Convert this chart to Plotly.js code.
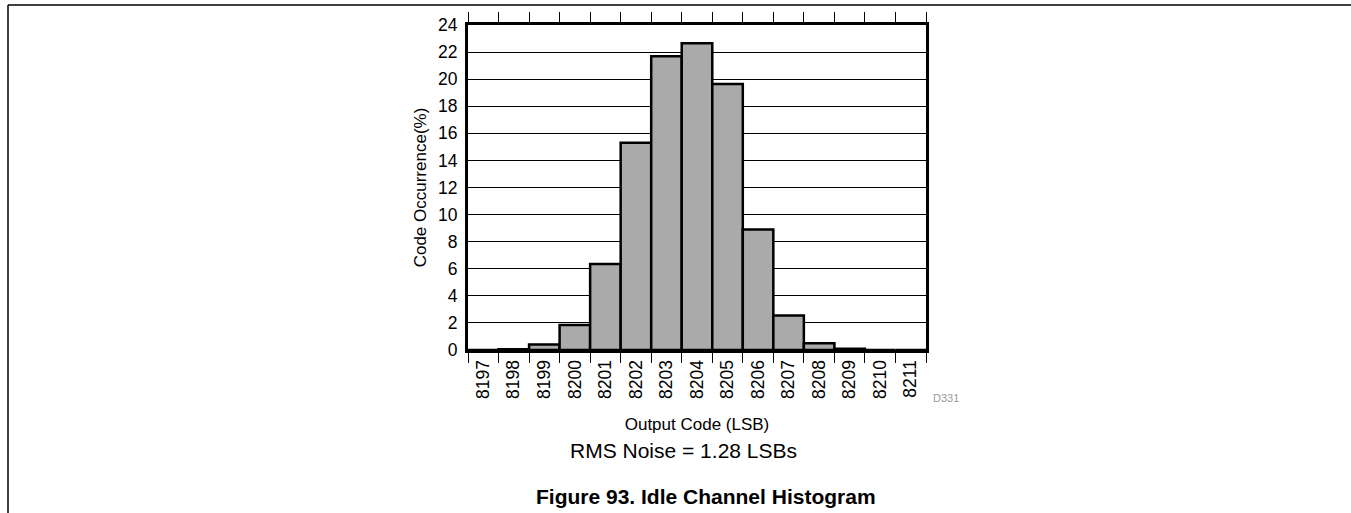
<!DOCTYPE html>
<html>
<head>
<meta charset="utf-8">
<script src="https://cdn.plot.ly/plotly-3.0.1.min.js"></script>
<style>
html, body { margin: 0; padding: 0; background: #fff; }
#chart { width: 1351px; height: 513px; }
</style>
</head>
<body>
<div id="chart"></div>
<script>
// Data
const codes = ["8197","8198","8199","8200","8201","8202","8203","8204","8205","8206","8207","8208","8209","8210","8211"];
const occurrence = [0, 0.05, 0.4, 1.85, 6.35, 15.3, 21.7, 22.65, 19.65, 8.9, 2.55, 0.5, 0.1, 0, 0];
const yTicks = [0,2,4,6,8,10,12,14,16,18,20,22,24];

const W = 1351, H = 513;
const L = 468, R = 926, T = 25, B = 350;
const px = x => (x - L) / (R - L);
const py = y => (B - y) / (B - T);

const font = "Liberation Sans, Arial, sans-serif";

const trace = {
  type: "bar",
  x: codes,
  y: occurrence,
  width: 1,
  marker: { color: "#aaaaaa", line: { color: "#000", width: 2.5 } },
  hoverinfo: "x+y"
};

const layout = {
  width: W, height: H,
  margin: { l: L, r: W - R, t: T, b: H - B, pad: 0 },
  paper_bgcolor: "#fff",
  plot_bgcolor: "#fff",
  showlegend: false,
  bargap: 0,
  font: { family: font, color: "#000", size: 17 },
  xaxis: {
    type: "category",
    range: [-0.5, codes.length - 0.5],
    tickson: "boundaries",
    ticks: "outside", ticklen: 10, tickwidth: 1, tickcolor: "#000",
    tickangle: -90,
    tickfont: { family: font, size: 17.5, color: "#000" },
    showline: true, linewidth: 3, linecolor: "#000", mirror: "ticks",
    showgrid: false, zeroline: false,
    title: { text: "Output Code (LSB)", font: { family: font, size: 17, color: "#000" }, standoff: 21 },
    fixedrange: true
  },
  yaxis: {
    range: [0, 24],
    tickvals: yTicks,
    ticktext: yTicks.map(String),
    ticks: "",
    ticklabelstandoff: 4,
    tickfont: { family: font, size: 17.5, color: "#000" },
    showline: true, linewidth: 3, linecolor: "#000", mirror: true,
    showgrid: true, gridcolor: "#000", gridwidth: 1,
    zeroline: false,
    title: { text: "Code Occurrence(%)", font: { family: font, size: 17, color: "#000" }, standoff: 8 },
    fixedrange: true
  },
  annotations: [
    { text: "RMS Noise = 1.28 LSBs", xref: "paper", yref: "paper",
      x: px(683), y: py(450), xanchor: "center", yanchor: "middle", showarrow: false,
      font: { family: font, size: 21, color: "#000" } },
    { text: "<b>Figure 93. Idle Channel Histogram</b>", xref: "paper", yref: "paper",
      x: px(706), y: py(496), xanchor: "center", yanchor: "middle", showarrow: false,
      font: { family: font, size: 21, color: "#000" } },
    { text: "D331", xref: "paper", yref: "paper",
      x: px(946), y: py(398), xanchor: "center", yanchor: "middle", showarrow: false,
      font: { family: font, size: 11, color: "#999" } }
  ],
  shapes: [
    { type: "line", xref: "paper", yref: "paper", x0: px(8), y0: py(5), x1: px(W), y1: py(5),
      line: { color: "#000", width: 1.5 } },
    { type: "line", xref: "paper", yref: "paper", x0: px(8), y0: py(5), x1: px(8), y1: py(H),
      line: { color: "#000", width: 1.5 } }
  ]
};

Plotly.newPlot("chart", [trace], layout, { displayModeBar: false, staticPlot: true });
</script>
</body>
</html>
